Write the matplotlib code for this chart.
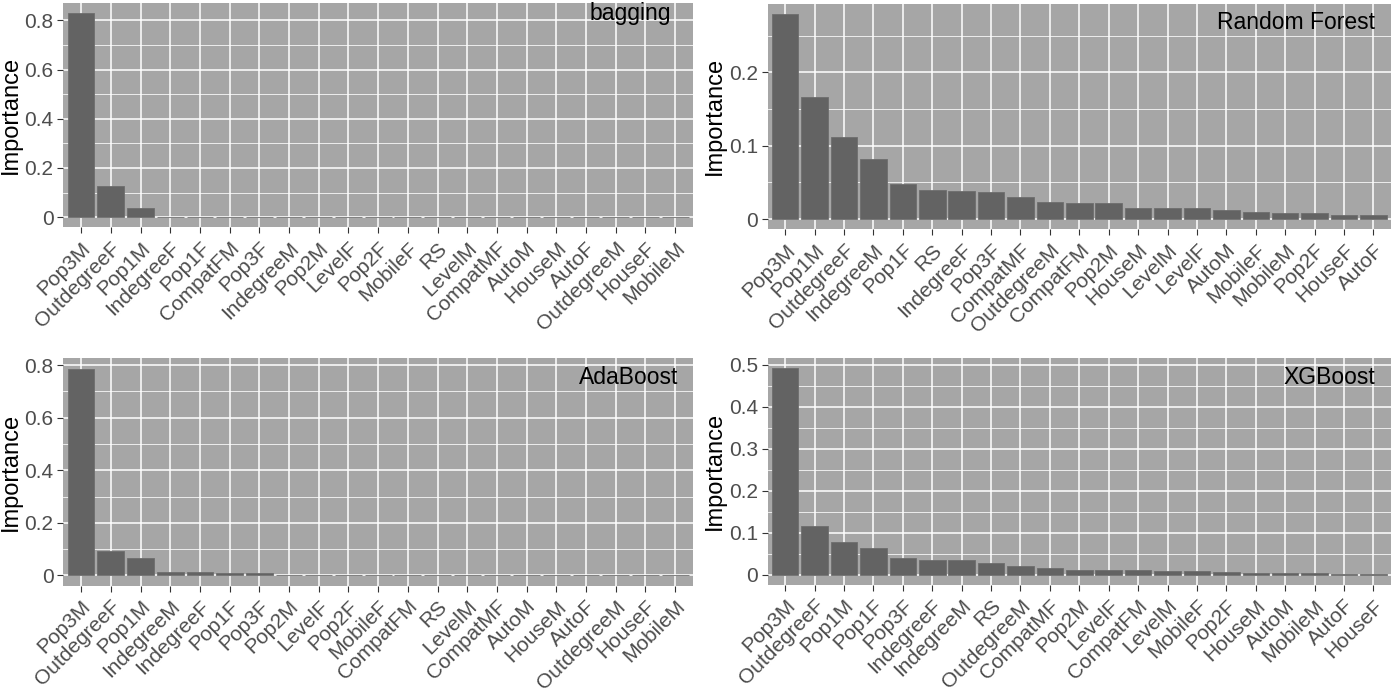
import numpy as np
import matplotlib
matplotlib.use('Agg')
import matplotlib.pyplot as plt
import matplotlib.transforms as mtransforms
from matplotlib.ticker import MultipleLocator, FuncFormatter

plt.rcParams.update({'font.family': ['Liberation Sans', 'DejaVu Sans']})

# ---- data ----
bag_labels = ['Pop3M', 'OutdegreeF', 'Pop1M', 'IndegreeF', 'Pop1F', 'CompatFM', 'Pop3F',
              'IndegreeM', 'Pop2M', 'LevelF', 'Pop2F', 'MobileF', 'RS', 'LevelM',
              'CompatMF', 'AutoM', 'HouseM', 'AutoF', 'OutdegreeM', 'HouseF', 'MobileM']
bag_values = [0.829, 0.125, 0.039, 0.002, 0.0015, 0.001, 0.001, 0.0008, 0.0006, 0.0005,
              0.0004, 0.0003, 0.0003, 0.0002, 0.0002, 0.0002, 0.0001, 0.0001, 0.0001, 0.0, 0.0]

rf_labels = ['Pop3M', 'Pop1M', 'OutdegreeF', 'IndegreeM', 'Pop1F', 'RS', 'IndegreeF', 'Pop3F',
             'CompatMF', 'OutdegreeM', 'CompatFM', 'Pop2M', 'HouseM', 'LevelM', 'LevelF',
             'AutoM', 'MobileF', 'MobileM', 'Pop2F', 'HouseF', 'AutoF']
rf_values = [0.280, 0.1665, 0.112, 0.0818, 0.048, 0.039, 0.0376, 0.0366, 0.0303, 0.023,
             0.022, 0.0213, 0.0154, 0.015, 0.0145, 0.0127, 0.0091, 0.0082, 0.0082, 0.0054, 0.0054]

ada_labels = ['Pop3M', 'OutdegreeF', 'Pop1M', 'IndegreeM', 'IndegreeF', 'Pop1F', 'Pop3F',
              'Pop2M', 'LevelF', 'Pop2F', 'MobileF', 'CompatFM', 'RS', 'LevelM', 'CompatMF',
              'AutoM', 'HouseM', 'AutoF', 'OutdegreeM', 'HouseF', 'MobileM']
ada_values = [0.787, 0.091, 0.066, 0.0137, 0.0125, 0.010, 0.0087, 0.001, 0.001, 0.0008,
              0.0007, 0.0006, 0.0005, 0.0004, 0.0004, 0.0003, 0.0003, 0.0002, 0.0002, 0.0001, 0.0001]

xgb_labels = ['Pop3M', 'OutdegreeF', 'Pop1M', 'Pop1F', 'Pop3F', 'IndegreeF', 'IndegreeM', 'RS',
              'OutdegreeM', 'CompatMF', 'Pop2M', 'LevelF', 'CompatFM', 'LevelM', 'MobileF',
              'Pop2F', 'HouseM', 'AutoM', 'MobileM', 'AutoF', 'HouseF']
xgb_values = [0.492, 0.1167, 0.077, 0.0636, 0.039, 0.035, 0.034, 0.028, 0.0207, 0.0167,
              0.012, 0.011, 0.011, 0.0095, 0.008, 0.007, 0.005, 0.004, 0.004, 0.0025, 0.001]

W, H = 1393, 695
fig = plt.figure(figsize=(W/100, H/100), dpi=100)

def add_px_axes(l, t, r, b):
  return fig.add_axes([l/W, 1-b/H, (r-l)/W, (b-t)/H])

def fmt(v, pos):
  return '0' if abs(v) < 1e-9 else f'{v:g}'

# shift rotated x labels a little left/down, like ggplot's hjust=1,vjust=1
shift = mtransforms.ScaledTranslation(-5/100, -4/100, fig.dpi_scale_trans)

def panel(box, labels, values, title, major, tx, ty):
  ax = add_px_axes(*box)
  ax.set_facecolor('#A6A6A6')
  x = np.arange(len(labels))
  ax.bar(x, values, width=0.9, color='#636363', edgecolor='#6E6E6E', lw=0.6, zorder=3)
  ax.set_xlim(-0.6, len(labels)-0.4)
  vmax = max(values)
  ax.set_ylim(-0.05*vmax, 1.05*vmax)
  ax.yaxis.set_major_locator(MultipleLocator(major))
  ax.yaxis.set_minor_locator(MultipleLocator(major/2))
  ax.yaxis.set_major_formatter(FuncFormatter(fmt))
  ax.set_xticks(x)
  ax.set_xticklabels(labels, rotation=45, ha='right', rotation_mode='anchor')
  for lab in ax.get_xticklabels():
    lab.set_transform(lab.get_transform() + shift)
  ax.grid(which='major', color='white', lw=1.1, zorder=0)
  ax.grid(which='minor', axis='y', color='white', lw=0.55, zorder=0)
  ax.set_axisbelow(True)
  for s in ax.spines.values():
    s.set_visible(False)
  ax.tick_params(axis='both', which='major', length=4, width=0.8, color='#333333',
                 labelcolor='#4D4D4D')
  ax.tick_params(axis='y', which='major', labelsize=15, pad=3)
  ax.tick_params(axis='x', which='major', labelsize=15, pad=4)
  ax.tick_params(axis='y', which='minor', length=0)
  ax.set_ylabel('Importance', fontsize=17, labelpad=2)
  ax.text(tx, ty, title, transform=ax.transAxes, ha='right', va='baseline',
          fontsize=16.5, color='black')
  return ax

panel((63.3, 3, 693, 227.3), bag_labels, bag_values, 'bagging', 0.2, 0.965, 0.925)
panel((767.6, 3.5, 1391, 229.3), rf_labels, rf_values, 'Random Forest', 0.1, 0.975, 0.885)
panel((63.3, 358.2, 693, 585.7), ada_labels, ada_values, 'AdaBoost', 0.2, 0.976, 0.885)
panel((767.6, 357.7, 1391, 585), xgb_labels, xgb_values, 'XGBoost', 0.1, 0.975, 0.885)

fig.savefig('out.png', dpi=100)
